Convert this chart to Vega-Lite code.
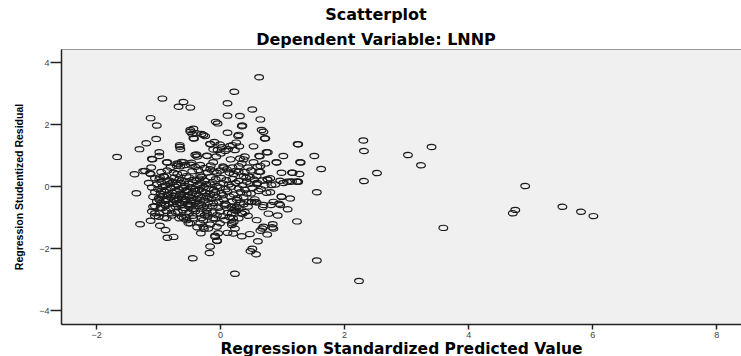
{
  "$schema": "https://vega.github.io/schema/vega-lite/v6.json",
  "autosize": {"type": "none"},
  "width": 680,
  "height": 275,
  "padding": {"left": 61, "top": 49, "right": 0, "bottom": 32},
  "background": "white",
  "title": {
    "text": "Scatterplot",
    "subtitle": "Dependent Variable: LNNP",
    "anchor": "middle",
    "dx": -25,
    "offset": 1,
    "font": "DejaVu Sans",
    "fontSize": 16,
    "fontWeight": "bold",
    "color": "#000000",
    "subtitleFont": "DejaVu Sans",
    "subtitleFontSize": 16,
    "subtitleFontWeight": "bold",
    "subtitleColor": "#000000",
    "subtitlePadding": 9
  },
  "config": {
    "view": {"fill": "#f0f0f0", "stroke": "#999999", "strokeWidth": 1},
    "axis": {
      "grid": false,
      "domainColor": "#222222",
      "domainWidth": 1.5,
      "tickColor": "#222222",
      "tickWidth": 1.5,
      "labelFont": "Liberation Sans",
      "labelFontSize": 9,
      "labelColor": "#444444",
      "titleColor": "#000000",
      "titleFontWeight": "bold"
    }
  },
  "data": {"values": [
    {"x":2.31,"y":1.47},{"x":2.32,"y":1.13},{"x":3.03,"y":1.0},{"x":3.41,"y":1.26},{"x":3.24,"y":0.67},{"x":2.53,"y":0.42},{"x":2.32,"y":0.16},{"x":4.92,"y":0.0},{"x":4.76,"y":-0.77},{"x":4.72,"y":-0.88},{"x":5.52,"y":-0.67},{"x":5.82,"y":-0.83},{"x":6.02,"y":-0.97},{"x":3.6,"y":-1.35},{"x":2.24,"y":-3.06},
    {"x":0.63,"y":3.51},{"x":0.23,"y":3.04},{"x":-0.93,"y":2.82},{"x":-0.59,"y":2.71},{"x":-0.67,"y":2.56},{"x":-0.48,"y":2.53},{"x":0.12,"y":2.67},{"x":0.52,"y":2.47},{"x":-1.12,"y":2.19},{"x":-1.02,"y":1.95},{"x":0.12,"y":2.27},{"x":0.32,"y":2.26},{"x":0.65,"y":2.15},{"x":-0.07,"y":2.07},{"x":-0.04,"y":2.02},{"x":0.35,"y":1.93},{"x":0.36,"y":1.95},{"x":-0.48,"y":1.81},{"x":-0.43,"y":1.85},{"x":-0.45,"y":1.68},{"x":-0.3,"y":1.68},{"x":-0.24,"y":1.61},{"x":0.12,"y":1.72},{"x":0.29,"y":1.61},{"x":0.67,"y":1.81},{"x":0.7,"y":1.75},{"x":0.72,"y":1.53},{"x":-1.03,"y":1.52},{"x":-1.19,"y":1.38},{"x":-1.3,"y":1.19},{"x":-0.42,"y":1.53},{"x":-1.66,"y":0.94},{"x":-0.98,"y":1.09},{"x":-1.1,"y":0.87},{"x":-0.65,"y":1.27},{"x":-0.64,"y":1.19},{"x":-0.16,"y":1.36},{"x":-0.09,"y":1.42},{"x":0.0,"y":1.34},{"x":0.2,"y":1.32},{"x":0.26,"y":1.4},{"x":0.31,"y":1.28},{"x":0.54,"y":1.28},{"x":1.26,"y":1.35},{"x":-0.38,"y":1.02},{"x":-0.37,"y":0.95},{"x":-0.21,"y":0.98},{"x":-0.04,"y":1.16},{"x":0.03,"y":1.25},{"x":0.08,"y":1.13},{"x":0.13,"y":1.19},{"x":0.24,"y":1.16},{"x":0.63,"y":0.97},{"x":0.64,"y":0.96},{"x":0.77,"y":1.09},{"x":1.02,"y":0.97},{"x":1.52,"y":0.97},{"x":1.29,"y":0.77},{"x":1.3,"y":0.76},{"x":1.63,"y":0.55},{"x":-0.85,"y":0.77},{"x":-0.67,"y":0.7},{"x":-0.64,"y":0.64},{"x":-0.59,"y":0.77},{"x":-0.47,"y":0.69},{"x":-0.32,"y":0.68},{"x":-0.11,"y":0.77},{"x":-0.06,"y":0.95},{"x":0.01,"y":1.05},{"x":0.17,"y":0.86},{"x":0.32,"y":0.89},{"x":0.4,"y":0.95},{"x":0.54,"y":0.77},{"x":0.65,"y":0.65},{"x":0.91,"y":0.77},{"x":-1.38,"y":0.38},{"x":-1.21,"y":0.49},{"x":-1.11,"y":0.6},{"x":-1.12,"y":0.39},{"x":-0.97,"y":0.28},{"x":-0.91,"y":0.32},{"x":-0.75,"y":0.43},{"x":-0.69,"y":0.39},{"x":-0.54,"y":0.32},{"x":-0.32,"y":0.35},{"x":-0.3,"y":0.3},{"x":-0.16,"y":0.54},{"x":-0.05,"y":0.43},{"x":0.06,"y":0.6},{"x":0.11,"y":0.54},{"x":0.22,"y":0.39},{"x":0.3,"y":0.46},{"x":0.38,"y":0.32},{"x":0.48,"y":0.3},{"x":0.59,"y":0.32},{"x":0.81,"y":0.25},{"x":0.99,"y":0.43},{"x":1.17,"y":0.43},{"x":1.28,"y":0.39},{"x":0.97,"y":0.17},{"x":1.08,"y":0.14},{"x":1.24,"y":0.14},
    {"x":-1.09,"y":0.86},{"x":-0.98,"y":0.97},{"x":-0.86,"y":0.76},{"x":-1.24,"y":0.48},{"x":-1.13,"y":0.41},{"x":-0.65,"y":1.32},{"x":-0.69,"y":0.73},{"x":-0.62,"y":0.78},{"x":-0.56,"y":0.68},{"x":-0.46,"y":0.75},{"x":-0.21,"y":0.97},{"x":-0.4,"y":1.0},{"x":-0.11,"y":1.18},{"x":-0.16,"y":1.35},{"x":-0.48,"y":1.75},{"x":-0.38,"y":1.7},{"x":-0.27,"y":1.65},{"x":-0.43,"y":1.54},{"x":0.3,"y":1.65},{"x":0.73,"y":1.54},{"x":1.25,"y":1.35},{"x":0.16,"y":1.29},{"x":0.75,"y":1.09},{"x":0.91,"y":0.76},{"x":0.73,"y":0.73},{"x":0.38,"y":0.86},{"x":0.35,"y":0.73},{"x":0.63,"y":0.46},{"x":0.76,"y":0.22},{"x":1.16,"y":0.43},{"x":1.13,"y":0.14},{"x":1.26,"y":0.14},{"x":0.83,"y":0.03},{"x":0.99,"y":-0.34},{"x":1.13,"y":-0.4},{"x":0.97,"y":-0.61},{"x":0.86,"y":-0.51},{"x":0.7,"y":-0.61},{"x":0.51,"y":-0.51},{"x":0.43,"y":-0.24},
    {"x":-1.35,"y":-0.23},{"x":1.56,"y":-0.2},{"x":1.24,"y":-1.14},{"x":1.56,"y":-2.4},{"x":0.24,"y":-2.83},{"x":-0.44,"y":-2.33},{"x":-0.17,"y":-2.16},{"x":-0.16,"y":-1.95},{"x":0.49,"y":-2.1},{"x":0.52,"y":-2.02},{"x":0.58,"y":-2.2},{"x":0.61,"y":-1.78},{"x":-1.29,"y":-1.23},{"x":-1.12,"y":-1.12},{"x":-0.97,"y":-1.28},{"x":-0.88,"y":-1.42},{"x":-0.85,"y":-1.67},{"x":-0.75,"y":-1.64},{"x":-0.31,"y":-1.52},{"x":-0.37,"y":-1.33},{"x":-0.26,"y":-1.38},{"x":-0.08,"y":-1.6},{"x":-0.05,"y":-1.76},{"x":-0.03,"y":-1.52},{"x":0.12,"y":-1.51},{"x":0.21,"y":-1.53},{"x":0.35,"y":-1.62},{"x":0.48,"y":-1.55},{"x":0.24,"y":-1.37},{"x":0.59,"y":-1.1},{"x":0.68,"y":-1.37},{"x":0.65,"y":-1.44},{"x":0.76,"y":-1.56},{"x":0.85,"y":-1.23},{"x":0.84,"y":-1.33},{"x":0.78,"y":-0.89},{"x":0.93,"y":-0.95},{"x":0.69,"y":-0.68},{"x":0.82,"y":-0.61},{"x":0.95,"y":-0.57},{"x":0.99,"y":-0.35},{"x":1.09,"y":-0.75},{"x":0.81,"y":-0.2},{"x":0.89,"y":0.05},{"x":1.02,"y":0.1},{"x":1.16,"y":0.15},{"x":1.25,"y":0.15},{"x":0.77,"y":0.2},{"x":0.65,"y":0.46},{"x":0.43,"y":0.14},{"x":0.59,"y":0.06},{"x":0.56,"y":-0.43},{"x":0.51,"y":-0.52},{"x":0.59,"y":-0.53},{"x":0.36,"y":-0.89},{"x":0.27,"y":-0.45},{"x":0.24,"y":-0.72},{"x":0.19,"y":-0.88},{"x":0.21,"y":-1.04},{"x":0.19,"y":-1.2},{"x":0.08,"y":-1.1},{"x":0.0,"y":-1.2},{"x":-0.05,"y":-0.94},{"x":-0.11,"y":-1.04},{"x":-0.16,"y":-1.24},{"x":-0.19,"y":-1.37},{"x":-0.48,"y":-1.2},{"x":-0.54,"y":-1.1},{"x":-0.59,"y":-1.04},{"x":-0.43,"y":-1.04},{"x":-0.27,"y":-1.1},{"x":-0.21,"y":-0.88},{"x":0.38,"y":-0.59},{"x":-0.05,"y":-1.77},{"x":0.86,"y":-1.37},{"x":0.7,"y":-1.31},{"x":0.22,"y":-1.15},{"x":0.19,"y":-1.26},{"x":-0.08,"y":-1.64},{"x":-0.05,"y":-1.31},{"x":0.22,"y":-0.77},{"x":0.35,"y":-0.88},{"x":0.27,"y":-0.67},{"x":0.46,"y":-0.51},{"x":0.56,"y":-0.51},{"x":-0.51,"y":-1.2},{"x":-0.62,"y":-0.99},{"x":-0.32,"y":-1.2},{"x":-0.27,"y":-1.31},{"x":-1.05,"y":-0.88},{"x":-0.99,"y":-0.99},{"x":-0.94,"y":-0.72},{"x":-0.86,"y":-1.04},{"x":-1.08,"y":-0.67},
    {"x":-1.05,"y":0.25},{"x":-0.98,"y":0.22},{"x":-0.9,"y":0.3},{"x":-0.82,"y":0.18},{"x":-0.74,"y":0.27},{"x":-0.66,"y":0.21},{"x":-0.58,"y":0.15},{"x":-0.5,"y":0.28},{"x":-0.42,"y":0.2},{"x":-0.33,"y":0.24},{"x":-0.25,"y":0.17},{"x":-0.15,"y":0.29},{"x":-0.07,"y":0.22},{"x":0.02,"y":0.26},{"x":0.1,"y":0.19},{"x":0.2,"y":0.23},{"x":0.3,"y":0.16},{"x":0.42,"y":0.27},{"x":0.55,"y":0.21},{"x":0.68,"y":0.18},
    {"x":-1.15,"y":0.1},{"x":-1.02,"y":0.05},{"x":-0.95,"y":0.12},{"x":-0.88,"y":0.02},{"x":-0.8,"y":0.08},{"x":-0.76,"y":0.13},{"x":-0.7,"y":0.04},{"x":-0.63,"y":0.1},{"x":-0.57,"y":0.0},{"x":-0.5,"y":0.07},{"x":-0.44,"y":0.11},{"x":-0.36,"y":0.03},{"x":-0.3,"y":0.09},{"x":-0.22,"y":0.06},{"x":-0.12,"y":0.12},{"x":-0.05,"y":0.0},{"x":0.05,"y":0.08},{"x":0.14,"y":0.05},{"x":0.25,"y":0.1},{"x":0.36,"y":0.03},{"x":0.48,"y":0.07},{"x":0.6,"y":0.1},{"x":0.72,"y":0.02},
    {"x":-1.1,"y":-0.05},{"x":-1.0,"y":-0.1},{"x":-0.93,"y":-0.03},{"x":-0.86,"y":-0.12},{"x":-0.79,"y":-0.07},{"x":-0.72,"y":-0.02},{"x":-0.66,"y":-0.1},{"x":-0.6,"y":-0.06},{"x":-0.53,"y":-0.13},{"x":-0.47,"y":-0.04},{"x":-0.4,"y":-0.09},{"x":-0.33,"y":-0.11},{"x":-0.26,"y":-0.03},{"x":-0.18,"y":-0.08},{"x":-0.1,"y":-0.12},{"x":0.0,"y":-0.05},{"x":0.09,"y":-0.1},{"x":0.18,"y":-0.02},{"x":0.3,"y":-0.08},{"x":0.4,"y":-0.12},{"x":0.52,"y":-0.06},{"x":0.66,"y":-0.1},
    {"x":-1.05,"y":-0.2},{"x":-0.96,"y":-0.25},{"x":-0.9,"y":-0.18},{"x":-0.83,"y":-0.27},{"x":-0.77,"y":-0.22},{"x":-0.7,"y":-0.16},{"x":-0.64,"y":-0.24},{"x":-0.58,"y":-0.28},{"x":-0.52,"y":-0.19},{"x":-0.45,"y":-0.23},{"x":-0.38,"y":-0.26},{"x":-0.3,"y":-0.17},{"x":-0.24,"y":-0.21},{"x":-0.16,"y":-0.25},{"x":-0.08,"y":-0.2},{"x":0.02,"y":-0.23},{"x":0.12,"y":-0.18},{"x":0.22,"y":-0.27},{"x":0.33,"y":-0.2},{"x":0.5,"y":-0.24},{"x":0.62,"y":-0.16},{"x":0.75,"y":-0.22},
    {"x":-1.08,"y":-0.35},{"x":-0.99,"y":-0.4},{"x":-0.92,"y":-0.33},{"x":-0.86,"y":-0.42},{"x":-0.8,"y":-0.37},{"x":-0.74,"y":-0.31},{"x":-0.68,"y":-0.4},{"x":-0.62,"y":-0.36},{"x":-0.56,"y":-0.44},{"x":-0.5,"y":-0.34},{"x":-0.44,"y":-0.39},{"x":-0.37,"y":-0.42},{"x":-0.3,"y":-0.36},{"x":-0.22,"y":-0.32},{"x":-0.14,"y":-0.41},{"x":-0.05,"y":-0.37},{"x":0.05,"y":-0.43},{"x":0.16,"y":-0.34},{"x":0.28,"y":-0.39},{"x":0.38,"y":-0.36},
    {"x":-1.02,"y":-0.5},{"x":-0.95,"y":-0.55},{"x":-0.88,"y":-0.48},{"x":-0.82,"y":-0.57},{"x":-0.76,"y":-0.52},{"x":-0.7,"y":-0.46},{"x":-0.65,"y":-0.54},{"x":-0.58,"y":-0.5},{"x":-0.52,"y":-0.58},{"x":-0.46,"y":-0.49},{"x":-0.4,"y":-0.53},{"x":-0.33,"y":-0.56},{"x":-0.26,"y":-0.47},{"x":-0.19,"y":-0.52},{"x":-0.11,"y":-0.55},{"x":-0.02,"y":-0.5},{"x":0.08,"y":-0.57},{"x":0.2,"y":-0.49},{"x":0.32,"y":-0.53},
    {"x":-1.05,"y":-0.65},{"x":-0.96,"y":-0.7},{"x":-0.88,"y":-0.63},{"x":-0.8,"y":-0.72},{"x":-0.72,"y":-0.67},{"x":-0.64,"y":-0.62},{"x":-0.57,"y":-0.71},{"x":-0.5,"y":-0.66},{"x":-0.42,"y":-0.73},{"x":-0.35,"y":-0.64},{"x":-0.27,"y":-0.69},{"x":-0.2,"y":-0.72},{"x":-0.12,"y":-0.65},{"x":-0.03,"y":-0.7},{"x":0.07,"y":-0.63},{"x":0.18,"y":-0.68},{"x":0.3,"y":-0.72},{"x":0.45,"y":-0.66},
    {"x":-1.1,"y":-0.82},{"x":-0.98,"y":-0.87},{"x":-0.87,"y":-0.8},{"x":-0.78,"y":-0.88},{"x":-0.68,"y":-0.83},{"x":-0.6,"y":-0.78},{"x":-0.5,"y":-0.86},{"x":-0.4,"y":-0.81},{"x":-0.32,"y":-0.89},{"x":-0.22,"y":-0.8},{"x":-0.12,"y":-0.85},{"x":0.0,"y":-0.82},{"x":0.12,"y":-0.87},{"x":0.26,"y":-0.8},{"x":0.4,"y":-0.84},
    {"x":-1.05,"y":-0.97},{"x":-0.9,"y":-1.02},{"x":-0.78,"y":-0.95},{"x":-0.66,"y":-1.04},{"x":-0.55,"y":-0.99},{"x":-0.44,"y":-0.96},{"x":-0.3,"y":-1.03},{"x":-0.2,"y":-0.98},{"x":-0.08,"y":-1.05},{"x":0.05,"y":-0.97},{"x":0.15,"y":-1.0},{"x":0.3,"y":-1.04},{"x":0.45,"y":-0.96},
    {"x":-0.95,"y":0.45},{"x":-0.85,"y":0.5},{"x":-0.6,"y":0.42},{"x":-0.45,"y":0.48},{"x":-0.35,"y":0.52},{"x":-0.2,"y":0.44},{"x":-0.1,"y":0.47},{"x":0.0,"y":0.5},{"x":0.15,"y":0.43},{"x":0.25,"y":0.49},{"x":0.4,"y":0.45},{"x":0.5,"y":0.5},
    {"x":-0.8,"y":0.6},{"x":-0.7,"y":0.65},{"x":-0.4,"y":0.62},{"x":-0.25,"y":0.58},{"x":-0.15,"y":0.66},{"x":0.05,"y":0.63},{"x":0.2,"y":0.6},{"x":0.3,"y":0.64},{"x":0.45,"y":0.6},{"x":0.6,"y":0.62},
    {"x":-0.95,"y":-0.15},{"x":-0.85,"y":-0.3},{"x":-0.75,"y":-0.45},{"x":-0.65,"y":-0.3},{"x":-0.55,"y":-0.15},{"x":-0.45,"y":-0.45},{"x":-0.35,"y":-0.3},{"x":-0.8,"y":-0.05},{"x":-0.7,"y":-0.58},{"x":-0.6,"y":-0.42},{"x":-0.5,"y":-0.62},{"x":-0.9,"y":-0.6},{"x":-0.4,"y":-0.15},{"x":-0.3,"y":-0.6},{"x":-0.2,"y":-0.4},{"x":-0.1,"y":-0.3},{"x":-0.85,"y":0.15},{"x":-0.62,"y":0.18},{"x":-0.38,"y":0.17},{"x":-0.15,"y":0.05},{"x":0.05,"y":-0.3},{"x":0.1,"y":-0.6},{"x":-0.98,"y":-0.45},{"x":-0.72,"y":-0.85},{"x":-0.45,"y":-0.75},{"x":-0.25,"y":-0.95}
  ]},
  "mark": {
    "type": "point",
    "shape": "M -1 0 A 1 0.6 0 1 1 1 0 A 1 0.6 0 1 1 -1 0 Z",
    "size": 76,
    "filled": false,
    "stroke": "#1a1a1a",
    "strokeWidth": 1.2,
    "opacity": 1
  },
  "encoding": {
    "x": {
      "field": "x",
      "type": "quantitative",
      "scale": {"domain": [-2.565, 8.4], "nice": false, "zero": false},
      "axis": {
        "values": [-2, 0, 2, 4, 6, 8],
        "title": "Regression Standardized Predicted Value",
        "tickSize": 5,
        "labelPadding": 1,
        "titleFont": "DejaVu Sans",
        "titleFontSize": 15.5,
        "titlePadding": 2
      }
    },
    "y": {
      "field": "y",
      "type": "quantitative",
      "scale": {"domain": [-4.45, 4.42], "nice": false, "zero": false},
      "axis": {
        "values": [-4, -2, 0, 2, 4],
        "title": "Regression Studentized Residual",
        "tickSize": 11,
        "labelPadding": 1,
        "titleFont": "Liberation Sans",
        "titleFontSize": 10.5,
        "titlePadding": 14
      }
    }
  }
}
